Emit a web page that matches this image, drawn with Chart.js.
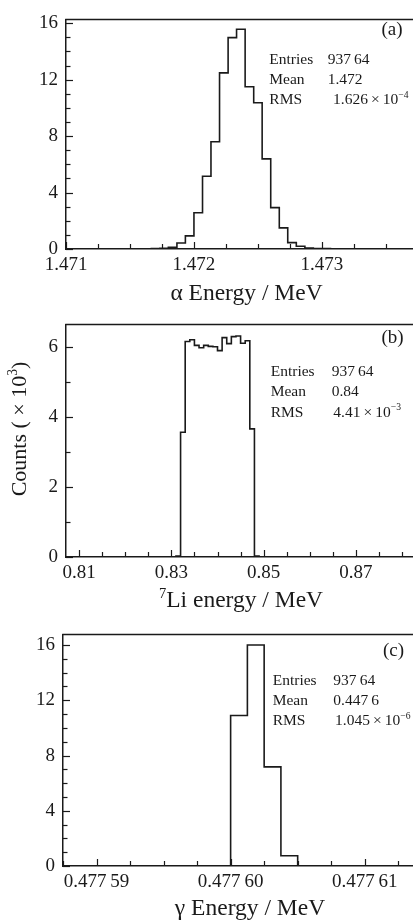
<!DOCTYPE html>
<html><head><meta charset="utf-8">
<script src="https://cdn.jsdelivr.net/npm/chart.js@4.4.0/dist/chart.umd.min.js"></script>
<style>
html,body{margin:0;padding:0;background:#fff;}
#wrap{position:relative;width:413px;height:923px;overflow:hidden;background:#fff;}
canvas{position:absolute;left:0;}
</style></head><body>
<div id="wrap">
<canvas id="ca" width="413" height="305" style="top:0"></canvas>
<canvas id="cb" width="413" height="310" style="top:305px"></canvas>
<canvas id="cc" width="413" height="308" style="top:615px"></canvas>
</div>
<script>
// ---------- data (counts in units of 10^3) ----------
const alphaEdges = [1.471667, 1.471733, 1.4718, 1.471867, 1.471933, 1.472, 1.472067, 1.472133, 1.4722, 1.472267, 1.472333, 1.4724, 1.472467, 1.472533, 1.4726, 1.472667, 1.472733, 1.4728, 1.472867, 1.472933, 1.473, 1.473067, 1.473133];
const alphaCounts = [0.03, 0.05, 0.12, 0.43, 0.93, 2.57, 5.16, 7.6, 12.48, 14.98, 15.57, 11.5, 10.36, 6.39, 2.93, 1.5, 0.45, 0.2, 0.07, 0.04, 0.03, 0.02];
const alphaXTicks = [1.471, 1.472, 1.473];
const alphaXLabels = ['1.471', '1.472', '1.473'];
const alphaYTicks = [0, 4, 8, 12, 16];

const liEdges = [0.831, 0.832, 0.833, 0.834, 0.835, 0.836, 0.837, 0.838, 0.839, 0.840, 0.841, 0.842, 0.843, 0.844, 0.845, 0.846, 0.847, 0.848, 0.849];
const liCounts = [0.03, 3.57, 6.17, 6.22, 6.06, 5.99, 6.06, 6.03, 6.02, 5.91, 6.28, 6.11, 6.31, 6.33, 6.12, 6.19, 3.67, 0.03];
const liXTicks = [0.81, 0.83, 0.85, 0.87];
const liXLabels = ['0.81', '0.83', '0.85', '0.87'];
const liYTicks = [0, 2, 4, 6];

const gammaEdges = [0.4776, 0.47760125, 0.4776025, 0.47760375, 0.477605];
const gammaCounts = [10.9, 16.0, 7.18, 0.74];
const gammaXTicks = [0.47759, 0.4776, 0.47761];
const gammaXLabels = ['0.477\u200959', '0.477\u200960', '0.477\u200961'];
const gammaYTicks = [0, 4, 8, 12, 16];

const statNames = ['Entries', 'Mean', 'RMS'];
const alphaStats = ['937\u200964', '1.472', '1.626\u2009×\u200910{−4}'];
const liStats = ['937\u200964', '0.84', '4.41\u2009×\u200910{−3}'];
const gammaStats = ['937\u200964', '0.447\u20096', '1.045\u2009×\u200910{−6}'];

const alphaTitle = 'α Energy / MeV';
const liTitle = '{7}Li energy / MeV';
const gammaTitle = 'γ Energy / MeV';
const yTitle = 'Counts ( × 10{3})';

// ---------- drawing helpers ----------
const FAM = '"Liberation Serif", "Times New Roman", serif';
const INK = '#1a1a1a';
function drawRich(ctx, str, x, y, size, align) {
  const parts = [];
  str.split(/(\{[^}]*\})/).forEach(p => {
    if (!p) return;
    if (p[0] === '{') parts.push({t: p.slice(1, -1), sup: true});
    else parts.push({t: p, sup: false});
  });
  let total = 0;
  parts.forEach(p => {
    p.size = p.sup ? size * 0.62 : size;
    ctx.font = p.size + 'px ' + FAM;
    p.w = ctx.measureText(p.t).width;
    total += p.w;
  });
  let cx = align === 'center' ? x - total / 2 : align === 'right' ? x - total : x;
  ctx.textAlign = 'left';
  ctx.textBaseline = 'alphabetic';
  ctx.fillStyle = INK;
  parts.forEach(p => {
    ctx.font = p.size + 'px ' + FAM;
    ctx.fillText(p.t, cx, p.sup ? y - size * 0.4 : y);
    cx += p.w;
  });
}

const decoPlugin = {
  id: 'deco',
  afterDraw(chart, args, o) {
    const ctx = chart.ctx, ca = chart.chartArea;
    const xs = chart.scales.x, ys = chart.scales.y;
    ctx.save();
    ctx.strokeStyle = INK;
    ctx.lineWidth = 1.5;
    ctx.beginPath();
    ctx.moveTo(ca.left - 0.75, ca.top);
    ctx.lineTo(ca.right, ca.top);
    ctx.stroke();
    ctx.lineWidth = 1.2;
    // x tick marks (inward)
    for (let k = Math.ceil(xs.min / o.xStep - 1e-6); k * o.xStep <= xs.max + o.xStep * 1e-6; k++) {
      const v = k * o.xStep;
      const px = Math.round(xs.getPixelForValue(v)) + 0.5;
      const maj = o.xMajor.some(m => Math.abs(m - v) < o.xStep * 1e-3);
      const len = maj ? 7 : 5;
      ctx.beginPath(); ctx.moveTo(px, ca.bottom); ctx.lineTo(px, ca.bottom - len); ctx.stroke();
    }
    for (let k = Math.ceil(ys.min / o.yStep - 1e-6); k * o.yStep <= ys.max + 1e-9; k++) {
      const v = k * o.yStep;
      const py = Math.round(ys.getPixelForValue(v)) + 0.5;
      const maj = o.yMajor.some(m => Math.abs(m - v) < 1e-6);
      const len = maj ? 7 : 4.5;
      ctx.beginPath(); ctx.moveTo(ca.left, py); ctx.lineTo(ca.left + len, py); ctx.stroke();
    }
    // texts
    (o.texts || []).forEach(t => {
      if (t.rot) {
        ctx.save();
        ctx.translate(t.x, t.y);
        ctx.rotate(t.rot);
        drawRich(ctx, t.s, 0, 0, t.size, t.align || 'left');
        ctx.restore();
      } else {
        drawRich(ctx, t.s, t.x, t.y, t.size, t.align || 'left');
      }
    });
    ctx.restore();
  }
};

function histPoints(edges, counts) {
  const pts = [];
  for (let i = 0; i < edges.length; i++) {
    const prev = i === 0 ? 0 : counts[i - 1];
    const cur = i < counts.length ? counts[i] : 0;
    pts.push({x: edges[i], y: prev});
    pts.push({x: edges[i], y: cur});
  }
  return pts;
}

function statTexts(stats, lx, vx, rx, y0, dy) {
  const t = [];
  statNames.forEach((n, i) => {
    t.push({s: n, x: lx, y: y0 + i * dy, size: 15.5});
    t.push({s: stats[i], x: i === 2 ? rx : vx, y: y0 + i * dy, size: 15.5});
  });
  return t;
}

function makeChart(id, c) {
  return new Chart(document.getElementById(id), {
    type: 'line',
    data: {datasets: [{
      data: histPoints(c.edges, c.counts),
      borderColor: INK, borderWidth: 1.6, pointRadius: 0, fill: false, tension: 0
    }]},
    options: {
      responsive: false, animation: false, devicePixelRatio: 1,
      layout: {padding: {top: c.padTop, left: 0, right: 0, bottom: 0}},
      plugins: {legend: {display: false}, tooltip: {enabled: false},
        deco: {xStep: c.xStep, yStep: c.yStep, xMajor: c.xTicks, yMajor: c.yTicks, texts: c.texts}},
      scales: {
        x: {
          type: 'linear', min: c.xMin, max: c.xMax,
          afterFit: s => { s.height = c.xH; },
          afterBuildTicks: s => { s.ticks = c.xTicks.map(v => ({value: v})); },
          ticks: {callback: (v, i) => c.xLabels[i], font: {family: FAM, size: 19}, color: INK,
                  padding: 5, maxRotation: 0, minRotation: 0, autoSkip: false},
          grid: {display: false, drawTicks: false},
          border: {display: true, color: INK, width: 1.5}
        },
        y: {
          type: 'linear', min: 0, max: c.yMax,
          afterFit: s => { s.width = c.yW; },
          afterBuildTicks: s => { s.ticks = c.yTicks.map(v => ({value: v})); },
          ticks: {callback: v => String(v), font: {family: FAM, size: 19}, color: INK, padding: 8, autoSkip: false},
          grid: {display: false, drawTicks: false},
          border: {display: true, color: INK, width: 1.5}
        }
      }
    },
    plugins: [decoPlugin]
  });
}

makeChart('ca', {
  edges: alphaEdges, counts: alphaCounts, xTicks: alphaXTicks, xLabels: alphaXLabels, yTicks: alphaYTicks,
  xMin: 1.471, xMax: 1.473712, yMax: 16.27, xStep: 0.00025, yStep: 1,
  padTop: 10, xH: 56, yW: 66,
  texts: [
    {s: '(a)', x: 381.5, y: 35, size: 19},
    {s: alphaTitle, x: 246.5, y: 299.5, size: 23.5, align: 'center'}
  ].concat(statTexts(alphaStats, 269.3, 327.7, 333, 64, 20))
});

makeChart('cb', {
  edges: liEdges, counts: liCounts, xTicks: liXTicks, xLabels: liXLabels, yTicks: liYTicks,
  xMin: 0.80718, xMax: 0.88235, yMax: 6.66, xStep: 0.005, yStep: 1,
  padTop: 12, xH: 58, yW: 66,
  texts: [
    {s: '(b)', x: 381.5, y: 38, size: 19},
    {s: liTitle, x: 241, y: 302, size: 23.5, align: 'center'},
    {s: yTitle, x: 25.5, y: 124, size: 22, align: 'center', rot: -Math.PI / 2}
  ].concat(statTexts(liStats, 270.7, 331.7, 333.3, 71, 20.3))
});

makeChart('cc', {
  edges: gammaEdges, counts: gammaCounts, xTicks: gammaXTicks, xLabels: gammaXLabels, yTicks: gammaYTicks,
  xMin: 0.4775875, xMax: 0.4776136, yMax: 16.77, xStep: 0.0000025, yStep: 1,
  padTop: 10, xH: 57, yW: 63,
  texts: [
    {s: '(c)', x: 383, y: 41, size: 19},
    {s: gammaTitle, x: 250, y: 300, size: 23.5, align: 'center'}
  ].concat(statTexts(gammaStats, 272.7, 333.3, 335, 70, 20))
});
</script>
</body></html>
